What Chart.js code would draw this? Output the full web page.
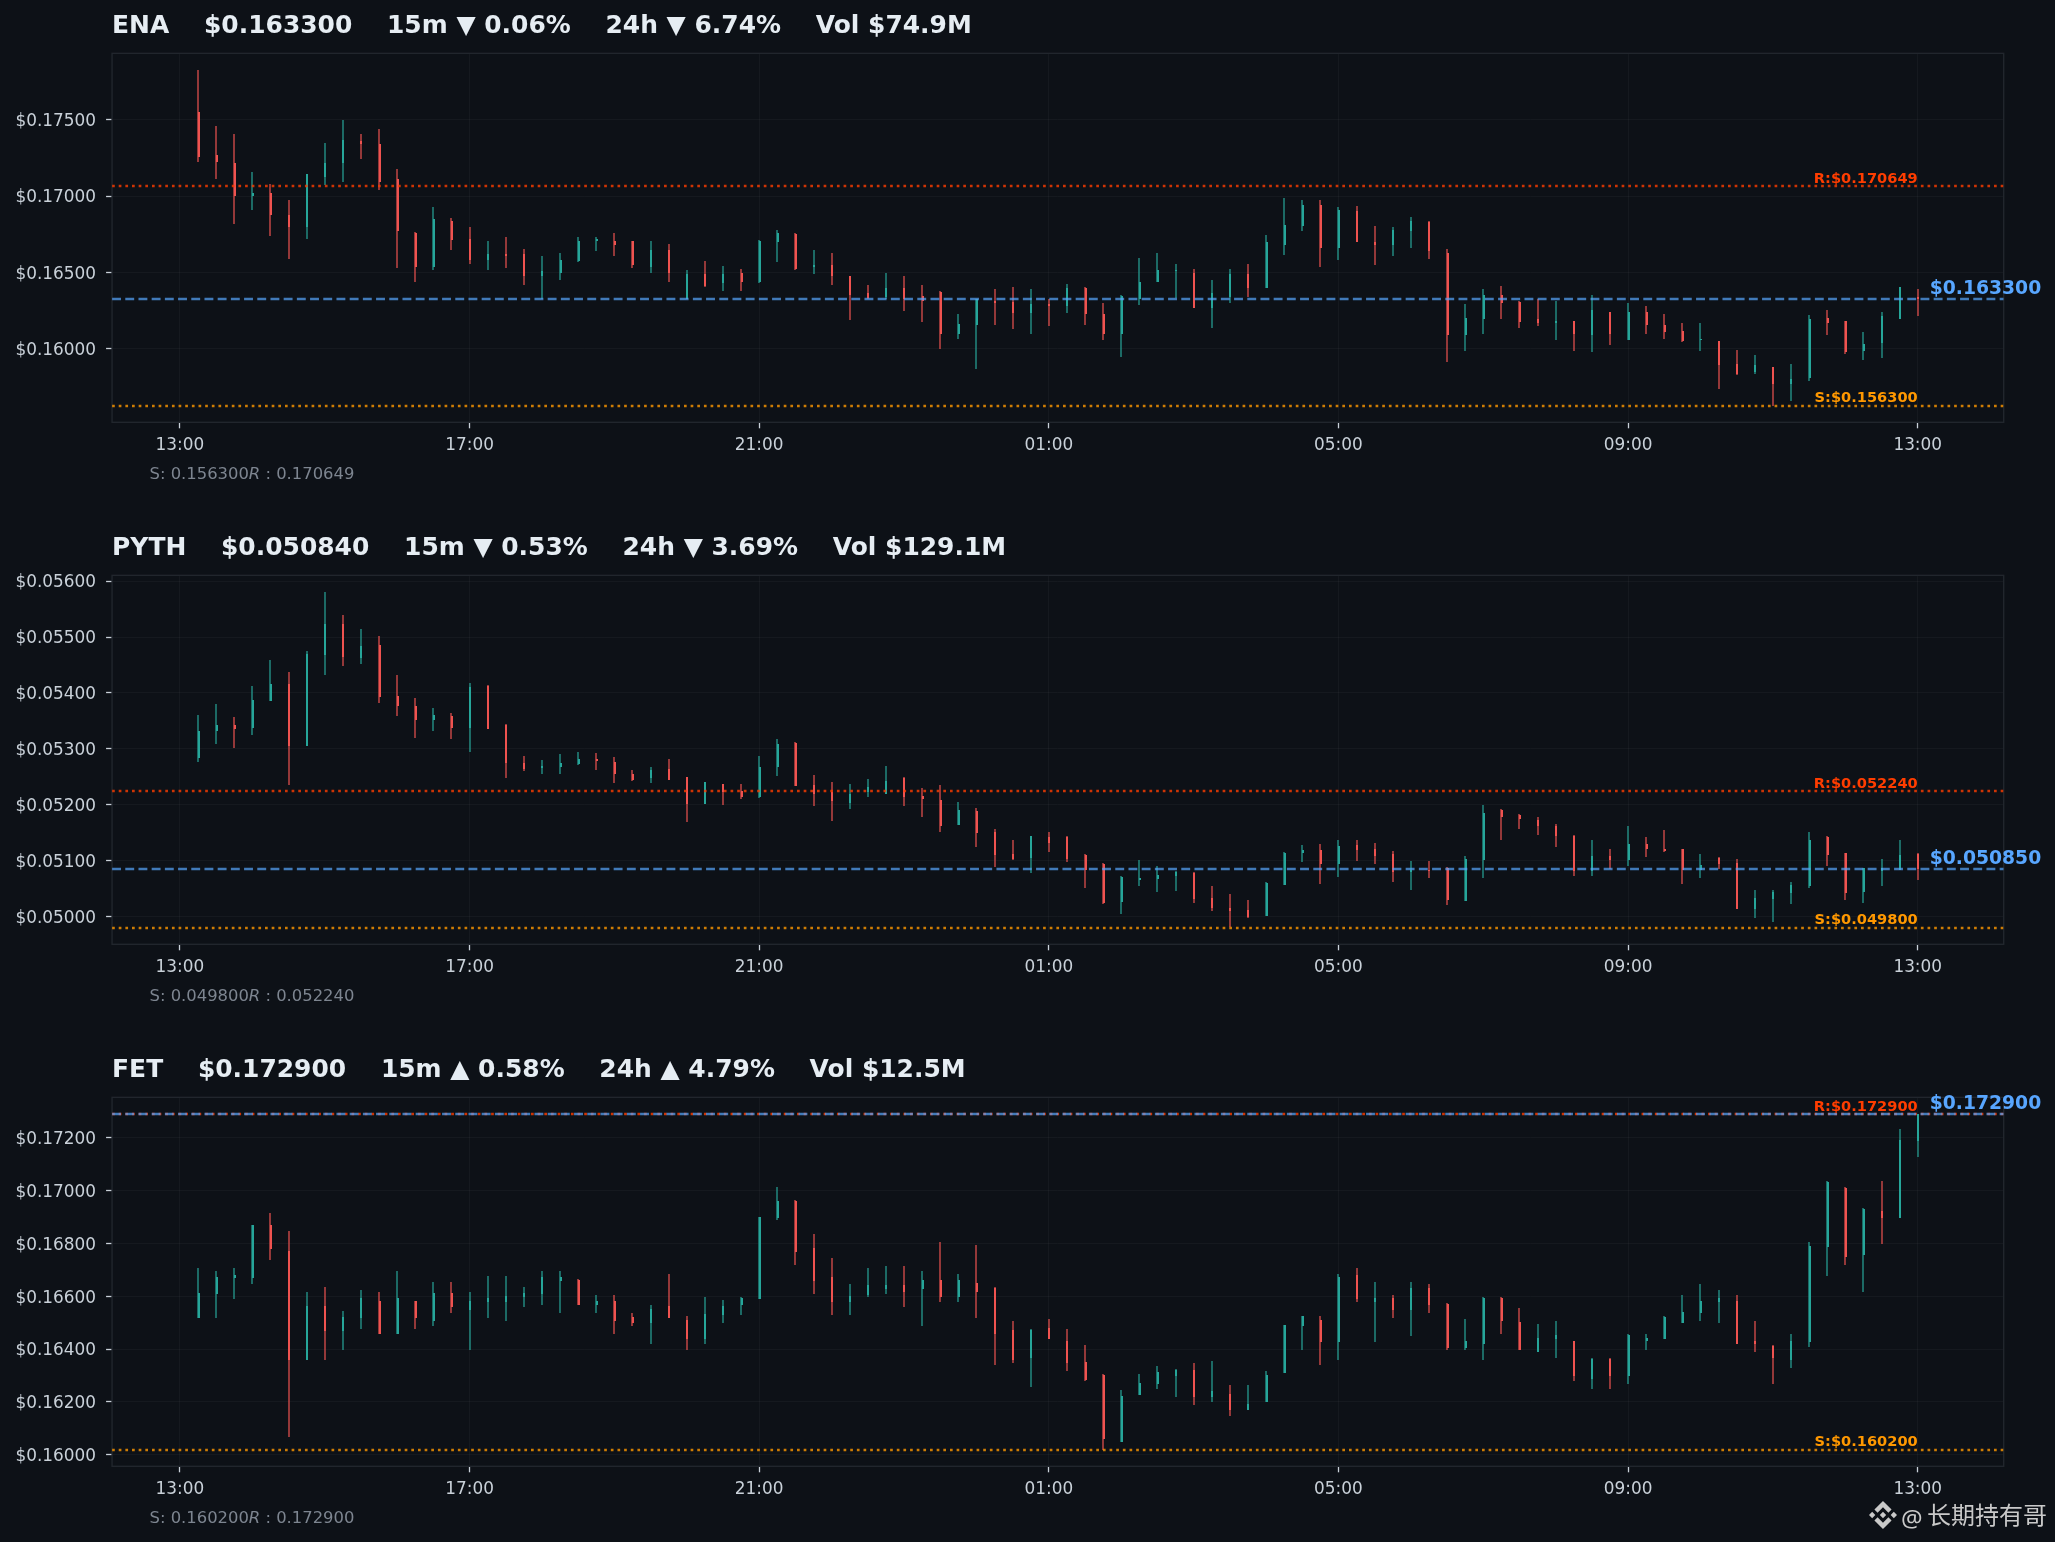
<!DOCTYPE html>
<html><head><meta charset="utf-8">
<script src="https://cdn.jsdelivr.net/npm/chart.js@4/dist/chart.umd.min.js"></script>
<style>
html,body{margin:0;padding:0;background:#0d1117;width:2055px;height:1542px;overflow:hidden}
canvas{position:absolute;left:0}
#wm{position:absolute;left:0;top:0;color:#c9c9c9}
#wm span{position:absolute;white-space:nowrap;line-height:1}
#wm svg{position:absolute;left:1869px;top:1501px;width:28px;height:28px;fill:#c9c9c9}
</style></head><body>
<canvas id="c0" width="2055" height="522" style="top:0;width:2055px;height:522px"></canvas>
<canvas id="c1" width="2055" height="522" style="top:522px;width:2055px;height:522px"></canvas>
<canvas id="c2" width="2055" height="498" style="top:1044px;width:2055px;height:498px"></canvas>
<div id="wm"><svg viewBox="0 0 24 24"><path d="M16.624 13.9202l2.7175 2.7154-7.353 7.353-7.353-7.352 2.7175-2.7164 4.6355 4.6595 4.6356-4.6595zm4.6366-4.6366L24 12l-2.7154 2.7164L18.5682 12l2.6924-2.7164zm-9.272.001l2.7163 2.6914-2.7164 2.7174v-.001L9.2721 12l2.7164-2.7154zm-9.2722-.001L5.4088 12l-2.6914 2.6924L0 12l2.7164-2.7164zM11.9885.0115l7.353 7.329-2.7174 2.7154-4.6356-4.6356-4.6355 4.6595-2.7174-2.7154 7.353-7.353z"/></svg><span style="left:1901px;top:1501px;font:24px 'Noto Sans'">@</span><span style="left:1927px;top:1496px;font:24px 'Noto Sans CJK SC'">长期持有哥</span></div>
<script>
const timeLabels=['13:00','17:00','21:00','01:00','05:00','09:00','13:00'];
const timeTickIndex=[0,16,32,48,64,80,96];

const enaOpen=[0.17550,0.17269,0.17217,0.16998,0.17022,0.16878,0.16795,0.17128,0.17215,0.17361,0.17341,0.17113,0.16761,0.16535,0.16839,0.16722,0.16585,0.16624,0.16624,0.16476,0.16495,0.16578,0.16704,0.16708,0.16704,0.16535,0.16650,0.16330,0.16493,0.16430,0.16500,0.16435,0.16698,0.16754,0.16535,0.16552,0.16474,0.16367,0.16341,0.16402,0.16345,0.16371,0.16098,0.16156,0.16313,0.16306,0.16235,0.16293,0.16278,0.16400,0.16226,0.16098,0.16330,0.16437,0.16508,0.16500,0.16267,0.16343,0.16493,0.16398,0.16682,0.16806,0.16943,0.16658,0.16904,0.16700,0.16682,0.16769,0.16832,0.16630,0.16091,0.16193,0.16350,0.16306,0.16193,0.16169,0.16180,0.16091,0.16239,0.16058,0.16239,0.16154,0.16115,0.16058,0.16050,0.15900,0.15850,0.15880,0.15771,0.15808,0.16200,0.16180,0.15987,0.16039,0.16195,0.16343];
const enaClose=[0.17256,0.17226,0.16998,0.17022,0.16874,0.16795,0.17143,0.17217,0.17367,0.17343,0.17095,0.16769,0.16535,0.16852,0.16715,0.16585,0.16624,0.16606,0.16476,0.16513,0.16585,0.16708,0.16722,0.16682,0.16548,0.16650,0.16495,0.16493,0.16415,0.16493,0.16435,0.16708,0.16761,0.16526,0.16552,0.16476,0.16356,0.16335,0.16402,0.16324,0.16313,0.16098,0.16161,0.16330,0.16298,0.16235,0.16293,0.16280,0.16400,0.16226,0.16098,0.16345,0.16441,0.16519,0.16519,0.16267,0.16363,0.16493,0.16398,0.16702,0.16813,0.16943,0.16663,0.16911,0.16698,0.16682,0.16780,0.16839,0.16639,0.16091,0.16200,0.16350,0.16300,0.16176,0.16167,0.16180,0.16098,0.16252,0.16098,0.16239,0.16154,0.16108,0.16052,0.16065,0.15895,0.15835,0.15893,0.15771,0.15802,0.16193,0.16167,0.15980,0.16030,0.16213,0.16406,0.16330];
const enaHigh=[0.17824,0.17458,0.17406,0.17158,0.17078,0.16976,0.17143,0.17348,0.17498,0.17406,0.17439,0.17178,0.16765,0.16930,0.16858,0.16800,0.16708,0.16735,0.16656,0.16611,0.16630,0.16735,0.16735,0.16761,0.16708,0.16708,0.16689,0.16519,0.16578,0.16545,0.16526,0.16713,0.16780,0.16761,0.16650,0.16630,0.16480,0.16417,0.16500,0.16480,0.16417,0.16376,0.16226,0.16330,0.16389,0.16408,0.16389,0.16330,0.16428,0.16408,0.16298,0.16356,0.16598,0.16630,0.16558,0.16526,0.16448,0.16526,0.16558,0.16748,0.16989,0.16976,0.16976,0.16930,0.16937,0.16806,0.16800,0.16865,0.16837,0.16656,0.16291,0.16395,0.16415,0.16311,0.16330,0.16317,0.16182,0.16350,0.16241,0.16298,0.16278,0.16226,0.16167,0.16167,0.16052,0.15991,0.15958,0.15882,0.15900,0.16219,0.16258,0.16185,0.16108,0.16243,0.16408,0.16389];
const enaLow=[0.17226,0.17115,0.16815,0.16906,0.16737,0.16587,0.16717,0.17072,0.17095,0.17245,0.17037,0.16528,0.16437,0.16515,0.16645,0.16554,0.16515,0.16528,0.16417,0.16330,0.16450,0.16567,0.16639,0.16606,0.16528,0.16495,0.16437,0.16330,0.16404,0.16378,0.16378,0.16430,0.16567,0.16515,0.16489,0.16417,0.16189,0.16324,0.16330,0.16248,0.16176,0.16000,0.16065,0.15869,0.16156,0.16130,0.16098,0.16150,0.16235,0.16156,0.16058,0.15948,0.16287,0.16437,0.16332,0.16267,0.16137,0.16300,0.16341,0.16398,0.16617,0.16769,0.16535,0.16580,0.16698,0.16548,0.16606,0.16658,0.16587,0.15915,0.15987,0.16098,0.16195,0.16137,0.16150,0.16058,0.15987,0.15980,0.16026,0.16058,0.16098,0.16065,0.16045,0.15987,0.15739,0.15830,0.15837,0.15630,0.15661,0.15791,0.16091,0.15967,0.15928,0.15941,0.16195,0.16215];

const pythOpen=[0.052828,0.053310,0.053429,0.053375,0.053857,0.054161,0.053054,0.054685,0.055232,0.054625,0.054857,0.053947,0.053768,0.053518,0.053589,0.053363,0.054125,0.053429,0.052750,0.052661,0.052679,0.052732,0.052822,0.052768,0.052554,0.052470,0.052643,0.052488,0.052018,0.052369,0.052250,0.052131,0.052667,0.053107,0.052357,0.052226,0.052036,0.052220,0.052191,0.052476,0.052149,0.052089,0.051631,0.051893,0.051518,0.051125,0.051042,0.051429,0.051429,0.051107,0.050929,0.050256,0.050649,0.050667,0.050721,0.050768,0.050322,0.050155,0.050108,0.050006,0.050560,0.051131,0.051179,0.050929,0.051286,0.051197,0.051113,0.050792,0.050834,0.050863,0.050274,0.051000,0.051911,0.051822,0.051732,0.051625,0.051447,0.050810,0.051072,0.051012,0.051298,0.051208,0.051197,0.050822,0.051048,0.050947,0.050131,0.050310,0.050415,0.050547,0.051429,0.051131,0.050429,0.050804,0.050834,0.051119];
const pythClose=[0.053322,0.053429,0.053357,0.053875,0.054161,0.053054,0.054697,0.055232,0.054649,0.054839,0.053935,0.053774,0.053518,0.053607,0.053363,0.054107,0.053357,0.052738,0.052643,0.052697,0.052750,0.052822,0.052774,0.052554,0.052447,0.052625,0.052447,0.052018,0.052399,0.052220,0.052131,0.052679,0.053089,0.052340,0.052191,0.052060,0.052197,0.052310,0.052429,0.052131,0.052101,0.051625,0.051911,0.051488,0.051090,0.051018,0.051435,0.051322,0.051018,0.050822,0.050233,0.050703,0.050685,0.050732,0.050786,0.050310,0.050149,0.050096,0.049989,0.050596,0.051143,0.051179,0.050929,0.051268,0.051179,0.051078,0.050792,0.050834,0.050810,0.050286,0.051018,0.051858,0.051774,0.051738,0.051613,0.051435,0.050810,0.051072,0.051012,0.051304,0.051214,0.051167,0.050822,0.050911,0.050935,0.050131,0.050322,0.050429,0.050553,0.051358,0.051107,0.050415,0.050870,0.050863,0.051107,0.050840];
const pythHigh=[0.053607,0.053804,0.053572,0.054125,0.054589,0.054375,0.054744,0.055804,0.055393,0.055143,0.055018,0.054322,0.053911,0.053732,0.053643,0.054179,0.054143,0.053447,0.052875,0.052804,0.052911,0.052947,0.052929,0.052857,0.052625,0.052679,0.052822,0.052500,0.052411,0.052375,0.052375,0.052875,0.053179,0.053119,0.052536,0.052411,0.052375,0.052464,0.052697,0.052500,0.052304,0.052357,0.052054,0.051947,0.051572,0.051375,0.051447,0.051518,0.051447,0.051125,0.050947,0.050715,0.051000,0.050893,0.050804,0.050786,0.050536,0.050393,0.050286,0.050607,0.051155,0.051286,0.051304,0.051358,0.051375,0.051322,0.051161,0.050982,0.050982,0.050875,0.051084,0.052000,0.051929,0.051840,0.051786,0.051661,0.051465,0.051375,0.051197,0.051625,0.051429,0.051554,0.051208,0.051108,0.051066,0.051018,0.050465,0.050465,0.050607,0.051518,0.051447,0.051143,0.050870,0.051018,0.051375,0.051143];
const pythLow=[0.052756,0.053078,0.053006,0.053238,0.053857,0.052345,0.053054,0.054327,0.054488,0.054524,0.053828,0.053595,0.053185,0.053310,0.053167,0.052935,0.053345,0.052470,0.052595,0.052542,0.052542,0.052703,0.052613,0.052381,0.052417,0.052381,0.052435,0.051685,0.052006,0.051988,0.052095,0.052125,0.052518,0.052340,0.051982,0.051703,0.051917,0.052131,0.052185,0.051982,0.051774,0.051506,0.051631,0.051238,0.050875,0.051006,0.050774,0.051149,0.050971,0.050506,0.050221,0.050042,0.050542,0.050435,0.050453,0.050238,0.050096,0.049810,0.049971,0.050006,0.050560,0.050971,0.050578,0.050703,0.050988,0.050935,0.050613,0.050471,0.050685,0.050203,0.050274,0.050685,0.051363,0.051560,0.051453,0.051238,0.050721,0.050721,0.050845,0.050900,0.051060,0.051149,0.050578,0.050685,0.050845,0.050131,0.049971,0.049899,0.050221,0.050506,0.050900,0.050292,0.050238,0.050542,0.050822,0.050649];

const fetOpen=[0.165185,0.166094,0.166700,0.166700,0.168694,0.167709,0.163595,0.165627,0.164693,0.165185,0.165816,0.164579,0.165816,0.165072,0.166119,0.165488,0.165778,0.165778,0.165968,0.166094,0.166573,0.166611,0.165677,0.165816,0.165210,0.164996,0.165627,0.165097,0.164390,0.165286,0.165665,0.165905,0.168959,0.169602,0.167823,0.166725,0.165791,0.166056,0.166271,0.166422,0.166271,0.166611,0.165968,0.166498,0.166308,0.164718,0.163671,0.164794,0.164302,0.163507,0.163027,0.160491,0.162270,0.162686,0.162989,0.163204,0.162194,0.162295,0.161702,0.162005,0.163103,0.164870,0.165097,0.164277,0.166801,0.165791,0.165930,0.165488,0.166308,0.165703,0.164049,0.164201,0.165942,0.165021,0.163898,0.164390,0.164302,0.162876,0.163620,0.162989,0.164302,0.164390,0.164996,0.165375,0.165778,0.165816,0.164302,0.164113,0.163595,0.164277,0.167861,0.170107,0.167558,0.169224,0.168971,0.171886];
const fetClose=[0.166119,0.166725,0.166801,0.168694,0.167798,0.163595,0.165627,0.164693,0.165210,0.165930,0.164579,0.165930,0.165185,0.166119,0.165602,0.165816,0.165930,0.166006,0.166119,0.166725,0.166725,0.165677,0.165816,0.165072,0.164996,0.165513,0.165185,0.164390,0.165324,0.165627,0.165930,0.168996,0.169602,0.167684,0.166586,0.165791,0.166006,0.166422,0.166422,0.166157,0.166611,0.165968,0.166611,0.166157,0.164579,0.163595,0.164718,0.164390,0.163482,0.162825,0.160604,0.162220,0.162712,0.163128,0.163204,0.162194,0.162409,0.161702,0.161917,0.163027,0.164908,0.165248,0.164277,0.166725,0.165905,0.165930,0.165488,0.166308,0.165677,0.164049,0.164302,0.165942,0.165072,0.163974,0.164415,0.164529,0.162989,0.163620,0.162977,0.164542,0.164415,0.165223,0.165400,0.165816,0.165930,0.164201,0.164201,0.163671,0.164302,0.167899,0.170322,0.167482,0.169312,0.168971,0.171912,0.172900];
const fetHigh=[0.167066,0.166952,0.167066,0.168719,0.169148,0.168466,0.166157,0.166346,0.165438,0.166233,0.166157,0.166952,0.165841,0.166536,0.166536,0.166157,0.166763,0.166763,0.166346,0.166952,0.166952,0.166649,0.166043,0.166043,0.165362,0.165665,0.166838,0.165248,0.165968,0.165854,0.165968,0.169022,0.170132,0.169640,0.168353,0.167444,0.166460,0.167066,0.167141,0.167141,0.166952,0.168050,0.166838,0.167936,0.166346,0.165059,0.164756,0.165135,0.164756,0.164150,0.163052,0.162447,0.163052,0.163355,0.163242,0.163469,0.163545,0.162636,0.162636,0.163166,0.164933,0.165248,0.165248,0.166838,0.167066,0.166536,0.166043,0.166536,0.166460,0.165741,0.165135,0.165968,0.165968,0.165551,0.164945,0.165059,0.164327,0.163658,0.163658,0.164567,0.164567,0.165248,0.166043,0.166460,0.166233,0.166043,0.165059,0.164150,0.164567,0.168050,0.170359,0.170132,0.169337,0.170359,0.172328,0.172900];
const fetLow=[0.165185,0.165185,0.165905,0.166472,0.167381,0.160680,0.163595,0.163595,0.163974,0.164769,0.164579,0.164579,0.164769,0.164882,0.165375,0.163974,0.165185,0.165072,0.165602,0.165677,0.165375,0.165677,0.165375,0.164579,0.164882,0.164201,0.165185,0.163974,0.164201,0.164996,0.165299,0.165905,0.168896,0.167192,0.166094,0.165299,0.165299,0.165980,0.166094,0.165602,0.164882,0.165791,0.165791,0.165185,0.163406,0.163482,0.162573,0.164390,0.163179,0.162800,0.160200,0.160491,0.162270,0.162497,0.162194,0.161891,0.162005,0.161475,0.161702,0.162005,0.163103,0.163974,0.163406,0.163595,0.165791,0.164277,0.165185,0.164504,0.165375,0.163974,0.163974,0.163595,0.164579,0.163974,0.163898,0.163671,0.162800,0.162497,0.162497,0.162686,0.163974,0.164390,0.164996,0.165072,0.164996,0.164201,0.163898,0.162686,0.163292,0.164087,0.166775,0.167192,0.166170,0.167987,0.168971,0.171281];

const enaTicks=[0.160,0.165,0.170,0.175];
const pythTicks=[0.050,0.051,0.052,0.053,0.054,0.055,0.056];
const fetTicks=[0.160,0.162,0.164,0.166,0.168,0.170,0.172];

const enaLevels={sup:0.1563,res:0.170649,cur:0.1633};
const pythLevels={sup:0.0498,res:0.05224,cur:0.05084};
const fetLevels={sup:0.1602,res:0.1729,cur:0.1729};

const panels=[
 {id:'c0',title:'ENA    $0.163300    15m ▼ 0.06%    24h ▼ 6.74%    Vol $74.9M',o:enaOpen,c:enaClose,h:enaHigh,l:enaLow,ticks:enaTicks,lv:enaLevels,supText:'S:$0.156300',resText:'R:$0.170649',curText:'$0.163300',noteS:'S: 0.156300',noteR:' : 0.170649'},
 {id:'c1',title:'PYTH    $0.050840    15m ▼ 0.53%    24h ▼ 3.69%    Vol $129.1M',o:pythOpen,c:pythClose,h:pythHigh,l:pythLow,ticks:pythTicks,lv:pythLevels,supText:'S:$0.049800',resText:'R:$0.052240',curText:'$0.050850',noteS:'S: 0.049800',noteR:' : 0.052240'},
 {id:'c2',title:'FET    $0.172900    15m ▲ 0.58%    24h ▲ 4.79%    Vol $12.5M',o:fetOpen,c:fetClose,h:fetHigh,l:fetLow,ticks:fetTicks,lv:fetLevels,supText:'S:$0.160200',resText:'R:$0.172900',curText:'$0.172900',noteS:'S: 0.160200',noteR:' : 0.172900'}
];

const UP='#26a69a',DOWN='#ef5350',UPW='rgba(38,166,154,0.6)',DOWNW='rgba(239,83,80,0.6)';
const XMIN=-3.75,XMAX=100.75,BODY_SHIFT=0.026;
const FONT='"DejaVu Sans"';

const decor={
 id:'decor',
 afterDatasetsUpdate(ch){
  ch.getSortedVisibleDatasetMetas().forEach(m=>{
   m.data.forEach(el=>{
    if(m.type==='bar'){el.x=Math.round(el.x);el.y=Math.round(el.y);el.base=Math.round(el.base);}
    else{el.y=Math.round(el.y);}
   });
  });
 },
 beforeDraw(ch){
  ch.scales.y.getLabelItems(ch.chartArea).forEach(it=>{
   if(!it.shifted){it.options.translation[1]+=1.8;it.shifted=true;}
  });
 },
 beforeDatasetsDraw(ch){
  const a=ch.chartArea,g=ch.ctx;
  g.save();g.strokeStyle='#21262d';g.lineWidth=1.4;g.strokeRect(a.left,a.top,a.right-a.left,a.bottom-a.top);g.restore();
 },
 afterDraw(ch,args,o){
  const g=ch.ctx,xs=ch.scales.x,ys=ch.scales.y,p=o.p,a=ch.chartArea;
  const lastX=xs.getPixelForValue(96);
  g.save();
  g.textBaseline='alphabetic';
  g.textAlign='right';
  g.font='bold 14.6px '+FONT;
  g.fillStyle='#ff3d00';g.fillText(p.resText,lastX,ys.getPixelForValue(p.lv.res)-3.5);
  g.fillStyle='#ff9800';g.fillText(p.supText,lastX,ys.getPixelForValue(p.lv.sup)-3.5);
  g.textAlign='left';
  g.font='bold 18.75px '+FONT;
  g.fillStyle='#58a6ff';g.fillText(p.curText,lastX+12,ys.getPixelForValue(p.lv.cur)-5);
  const ny=a.bottom+56.5;let nx=149.5;
  g.fillStyle='#7d8590';
  g.font='16.4px '+FONT;g.fillText(p.noteS,nx,ny);nx+=g.measureText(p.noteS).width;
  g.font='italic 16.4px '+FONT;g.fillText('R',nx,ny);nx+=g.measureText('R').width;
  g.font='16.4px '+FONT;g.fillText(p.noteR,nx,ny);
  g.restore();
 }
};

panels.forEach((p,pi)=>{
 const idx=p.o.map((_,i)=>i+1);
 const up=p.o.map((v,i)=>p.c[i]>=v);
 const allHi=Math.max(...p.h,p.lv.res),allLo=Math.min(...p.l,p.lv.sup);
 const pad=0.05*(allHi-allLo);
 const lineData=v=>[{x:XMIN,y:v},{x:XMAX,y:v}];
 new Chart(document.getElementById(p.id),{
  data:{datasets:[
   {type:'bar',label:'wick',order:5,xAxisID:'x',yAxisID:'y',data:idx.map((x,i)=>({x,y:[p.l[i],p.h[i]]})),backgroundColor:up.map(u=>u?UPW:DOWNW),borderWidth:0,barThickness:2,grouped:false,inflateAmount:0},
   {type:'bar',label:'body',order:4,xAxisID:'xBody',yAxisID:'y',data:idx.map((x,i)=>({x,y:[p.o[i],p.c[i]]})),backgroundColor:up.map(u=>u?UP:DOWN),borderWidth:0,barThickness:2,grouped:false,inflateAmount:0},
   {type:'line',label:'support',order:3,data:lineData(p.lv.sup),borderColor:'rgba(255,152,0,0.8)',borderWidth:2.6,borderDash:[2.7,3.95],pointRadius:0,fill:false},
   {type:'line',label:'resistance',order:2,data:lineData(p.lv.res),borderColor:'rgba(255,61,0,0.8)',borderWidth:2.6,borderDash:[2.7,3.95],pointRadius:0,fill:false},
   {type:'line',label:'current',order:1,data:lineData(p.lv.cur),borderColor:'rgba(88,166,255,0.7)',borderWidth:2.6,borderDash:[8.9,4.3],pointRadius:0,fill:false}
  ]},
  options:{
   responsive:false,animation:false,devicePixelRatio:1,
   layout:{padding:{left:0,right:51.3,top:0,bottom:0}},
   plugins:{
    legend:{display:false},tooltip:{enabled:false},
    title:{display:true,fullSize:false,align:'start',text:p.title,color:'#e6edf3',font:{family:FONT,size:24.95,weight:'bold',lineHeight:1.2},padding:{top:12,bottom:11.4}},
    decor:{p}
   },
   scales:{
    x:{type:'linear',min:XMIN,max:XMAX,position:'bottom',offset:false,
     afterFit(s){s.height=pi===2?75.7:99.7;},
     afterBuildTicks(s){s.ticks=timeTickIndex.map(v=>({value:v}));},
     ticks:{color:'#c9d1d9',font:{family:FONT,size:16.9},maxRotation:0,autoSkip:false,padding:7,callback(v){return timeLabels[timeTickIndex.indexOf(v)];}},
     grid:{offset:false,color:'rgba(255,255,255,0.035)',lineWidth:1,tickColor:'#c9d1d9',tickLength:6,tickWidth:1.3},
     border:{display:false}},
    xBody:{type:'linear',display:false,offset:false,min:XMIN-BODY_SHIFT,max:XMAX-BODY_SHIFT,position:'bottom'},
    y:{type:'linear',min:allLo-pad,max:allHi+pad,position:'left',
     afterFit(s){s.width=112.07;},
     afterBuildTicks(s){s.ticks=p.ticks.map(v=>({value:v}));},
     ticks:{color:'#c9d1d9',font:{family:FONT,size:16.9},padding:10,autoSkip:false,callback(v){return '$'+v.toFixed(5);}},
     grid:{color:'rgba(255,255,255,0.035)',lineWidth:1,tickColor:'#c9d1d9',tickLength:6,tickWidth:1.3},
     border:{display:false}}
   }
  },
  plugins:[decor]
 });
});
</script>
</body></html>
